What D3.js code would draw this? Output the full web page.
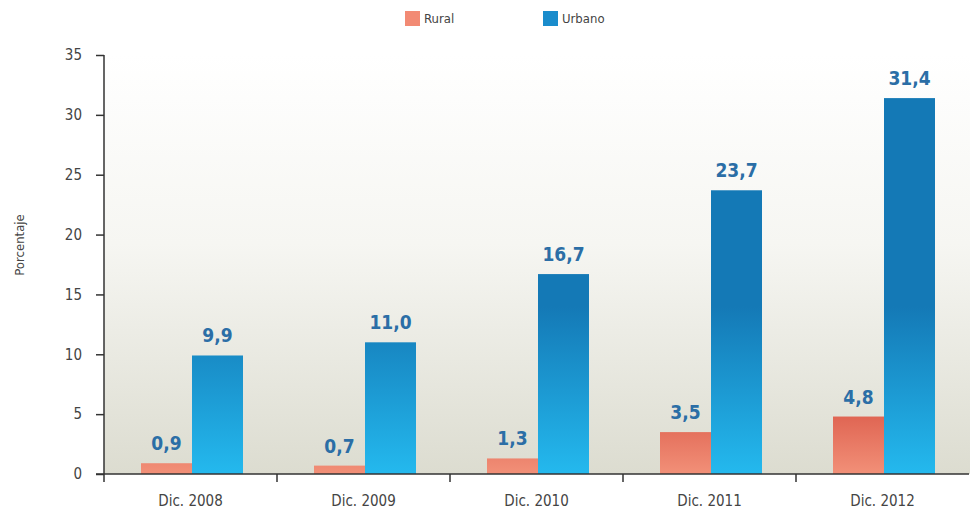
<!DOCTYPE html>
<html><head><meta charset="utf-8">
<script src="https://cdn.jsdelivr.net/npm/d3@7"></script>
<style>body{margin:0;background:#fff}svg{display:block}</style>
</head><body>
<script>
const categories = ["Dic. 2008","Dic. 2009","Dic. 2010","Dic. 2011","Dic. 2012"];
const rural = [0.9, 0.7, 1.3, 3.5, 4.8];
const urbano = [9.9, 11.0, 16.7, 23.7, 31.4];
const seriesNames = ["Rural","Urbano"];
const yTicks = [0,5,10,15,20,25,30,35];

const W=972,H=516;
const font = "'Liberation Sans Narrow','DejaVu Sans Condensed',Arial,sans-serif";
const svg=d3.select("body").append("svg").attr("width",W).attr("height",H);
const x0=d3.scaleBand().domain(categories).range([104,969]);
const y=d3.scaleLinear().domain([0,35]).range([474,55]);
const x1=d3.scaleBand().domain(seriesNames).range([37,139]);

const defs=svg.append("defs");
const bg=defs.append("linearGradient").attr("id","bg").attr("x1",0).attr("y1",0).attr("x2",0).attr("y2",1);
bg.append("stop").attr("offset",0).attr("stop-color","#ffffff");
bg.append("stop").attr("offset",0.45).attr("stop-color","#f6f6f2");
bg.append("stop").attr("offset",1).attr("stop-color","#dcdcd0");
const gu=defs.append("linearGradient").attr("id","gu").attr("gradientUnits","userSpaceOnUse")
  .attr("x1",0).attr("x2",0).attr("y1",y(0)).attr("y2",y(14));
gu.append("stop").attr("offset",0).attr("stop-color","#24b9ee");
gu.append("stop").attr("offset",1).attr("stop-color","#1479b6");
const gr=defs.append("linearGradient").attr("id","gr").attr("gradientUnits","userSpaceOnUse")
  .attr("x1",0).attr("x2",0).attr("y1",y(0)).attr("y2",y(5));
gr.append("stop").attr("offset",0).attr("stop-color","#f29078");
gr.append("stop").attr("offset",1).attr("stop-color","#df6452");

svg.append("rect").attr("x",104).attr("y",55).attr("width",866).attr("height",y(0)-55).attr("fill","url(#bg)");

const data=categories.map((c,i)=>({c,vals:[{s:"Rural",v:rural[i]},{s:"Urbano",v:urbano[i]}]}));
const g=svg.selectAll("g.grp").data(data).join("g").attr("transform",d=>`translate(${x0(d.c)},0)`);
g.selectAll("rect").data(d=>d.vals).join("rect")
  .attr("x",d=>x1(d.s)).attr("width",x1.bandwidth())
  .attr("y",d=>y(d.v)).attr("height",d=>y(0)-y(d.v))
  .attr("fill",d=>d.s==="Rural"?"url(#gr)":"url(#gu)");
g.selectAll("text").data(d=>d.vals).join("text")
  .attr("x",d=>x1(d.s)+x1.bandwidth()/2).attr("y",d=>y(d.v)-13)
  .attr("text-anchor","middle").attr("font-family",font).attr("font-weight","bold")
  .attr("font-size",19).attr("fill","#2b6ea6")
  .text(d=>d.v.toFixed(1).replace(".",","));

// y axis
const ya=svg.append("g").attr("transform","translate(104,0)")
  .call(d3.axisLeft(y).tickValues(yTicks).tickSize(8).tickPadding(14));
ya.select(".domain").attr("d",`M0,${y(35)}V482`).attr("stroke","#333").attr("stroke-width",1.5);
ya.selectAll(".tick line").attr("stroke","#333").attr("stroke-width",1.5);
ya.selectAll(".tick text").attr("font-family",font).attr("font-size",15).attr("fill","#444");

// x axis
const xa=svg.append("g").attr("transform",`translate(0,${y(0)})`);
xa.append("line").attr("x1",96).attr("x2",969).attr("y1",0).attr("y2",0).attr("stroke","#333").attr("stroke-width",1.5);
xa.selectAll("line.t").data(categories.slice(1)).join("line").attr("class","t")
  .attr("x1",d=>x0(d)).attr("x2",d=>x0(d)).attr("y1",0).attr("y2",8).attr("stroke","#333").attr("stroke-width",1.5);
xa.selectAll("text").data(categories).join("text")
  .attr("x",d=>x0(d)+x0.bandwidth()/2).attr("y",32).attr("text-anchor","middle")
  .attr("font-family",font).attr("font-size",15).attr("fill","#444").text(d=>d);

svg.append("text").attr("transform","translate(24,245) rotate(-90)").attr("text-anchor","middle")
  .attr("font-family",font).attr("font-size",13).attr("fill","#444").text("Porcentaje");

// legend
const leg=[{s:"Rural",x:405,c:"#f28a74"},{s:"Urbano",x:543,c:"#1a8ccc"}];
const lg=svg.selectAll("g.leg").data(leg).join("g").attr("transform",d=>`translate(${d.x},11)`);
lg.append("rect").attr("width",15).attr("height",15).attr("fill",d=>d.c);
lg.append("text").attr("x",19).attr("y",12).attr("font-family",font).attr("font-size",13).attr("fill","#444").text(d=>d.s);
</script>
</body></html>
